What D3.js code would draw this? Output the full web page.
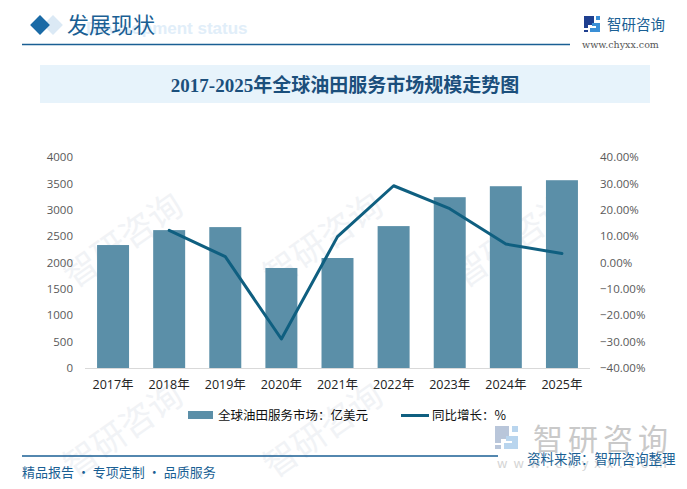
<!DOCTYPE html>
<html>
<head>
<meta charset="utf-8">
<script src="https://cdn.jsdelivr.net/npm/d3@7"></script>
<style>
  body { margin: 0; background: #fff; }
  svg { display: block; font-family: "Microsoft YaHei", "Noto Sans CJK SC", sans-serif; }
</style>
</head>
<body>
<div id="chart"></div>
<script>
// data
var years = ["2017年", "2018年", "2019年", "2020年", "2021年", "2022年", "2023年", "2024年", "2025年"];
var marketSize = [2331, 2614, 2671, 1896, 2085, 2690, 3238, 3446, 3560]; // 亿美元
var growth = [null, 12.2, 2.2, -29.0, 9.8, 29.1, 20.4, 7.0, 3.4]; // %
var leftTicks = [0, 500, 1000, 1500, 2000, 2500, 3000, 3500, 4000];
var rightTicks = [-40, -30, -20, -10, 0, 10, 20, 30, 40];

var W = 687, H = 489;
var barColor = "#5b8fa8";
var lineColor = "#0f5f80";
var brand = "#1a5f94";

var svg = d3.select("#chart").append("svg").attr("width", W).attr("height", H);

// faint watermarks
var wm = svg.append("g").attr("fill", "#f1f3f6").attr("font-size", 34);
[[130, 250], [330, 250], [520, 250], [130, 440], [330, 440]].forEach(function(p) {
  wm.append("text").attr("transform", "translate(" + p[0] + "," + p[1] + ") rotate(-35)")
    .attr("text-anchor", "middle").text("智研咨询");
});

// header
svg.append("rect").attr("x", 46).attr("y", 18).attr("width", 14).attr("height", 14)
  .attr("fill", "#dbe9f5").attr("transform", "rotate(45,53,25)");
svg.append("rect").attr("x", 33).attr("y", 18).attr("width", 14).attr("height", 14)
  .attr("fill", "#1a6aa6").attr("transform", "rotate(45,40,25)");
svg.append("text").attr("x", 86).attr("y", 34).attr("font-size", 17).attr("font-weight", "bold")
  .attr("font-family", "Arial, 'Liberation Sans', sans-serif")
  .attr("fill", "#e1eef9").text("Development status");
svg.append("text").attr("x", 67).attr("y", 33).attr("font-size", 22)
  .attr("fill", brand).text("发展现状");
svg.append("line").attr("x1", 22).attr("x2", 570).attr("y1", 44.5).attr("y2", 44.5)
  .attr("stroke", brand).attr("stroke-width", 1.5);

// small logo top right
var logo = svg.append("g").attr("transform", "translate(584,16)");
logo.append("path").attr("d", "M0,0 H10 V9 H4 V12 H0 Z M0,14 H4 V16 H0 Z").attr("fill", "#1f3f8f");
logo.append("path").attr("d", "M12,0 H16 V4 H12 Z M8,7 H16 V16 H6 V12 H12 V10 H8 Z").attr("fill", "#3a8fd6");
svg.append("text").attr("x", 607).attr("y", 30).attr("font-size", 14.5)
  .attr("fill", brand).text("智研咨询");
svg.append("text").attr("x", 582).attr("y", 48).attr("font-size", 9.5)
  .attr("font-family", "'DejaVu Serif', 'Liberation Serif', serif")
  .attr("fill", "#555").text("www.chyxx.com");

// title box
svg.append("rect").attr("x", 40).attr("y", 65).attr("width", 610).attr("height", 38).attr("fill", "#e7f3fb");
svg.append("text").attr("x", 345).attr("y", 92).attr("text-anchor", "middle")
  .attr("font-size", 19).attr("font-weight", "bold")
  .attr("font-family", "'Liberation Serif', 'DejaVu Serif', 'Noto Sans CJK SC', serif")
  .attr("fill", "#1b4f7c").text("2017-2025年全球油田服务市场规模走势图");

// scales
var x = d3.scaleBand().domain(years).range([85, 590]).paddingInner(0.43).paddingOuter(0.215);
var yL = d3.scaleLinear().domain([0, 4000]).range([368, 157]);
var yR = d3.scaleLinear().domain([-40, 40]).range([368, 157]);

// axes
var axL = svg.append("g").attr("transform", "translate(78,0)")
  .call(d3.axisLeft(yL).tickValues(leftTicks).tickSize(0).tickPadding(0).tickFormat(d3.format("d")));
axL.select(".domain").remove();
axL.selectAll("text").attr("font-size", 11.5).attr("fill", "#595959")
  .attr("font-family", "'Open Sans', 'DejaVu Sans', sans-serif").attr("dx", -5);

var axR = svg.append("g").attr("transform", "translate(600,0)")
  .call(d3.axisRight(yR).tickValues(rightTicks).tickSize(0).tickPadding(0)
    .tickFormat(function(d) { return d3.format(".2f")(d) + "%"; }));
axR.select(".domain").remove();
axR.selectAll("text").attr("font-size", 11.5).attr("fill", "#595959")
  .attr("font-family", "'Open Sans', 'DejaVu Sans', sans-serif");

// bars
svg.selectAll("rect.bar").data(marketSize).enter().append("rect")
  .attr("class", "bar")
  .attr("x", function(d, i) { return x(years[i]); })
  .attr("y", function(d) { return yL(d); })
  .attr("width", x.bandwidth())
  .attr("height", function(d) { return yL(0) - yL(d); })
  .attr("fill", barColor);

// base line
svg.append("line").attr("x1", 85).attr("x2", 590).attr("y1", 368.5).attr("y2", 368.5)
  .attr("stroke", "#d9d9d9").attr("stroke-width", 1);

var xAx = svg.append("g").attr("transform", "translate(0,368)")
  .call(d3.axisBottom(x).tickSize(0).tickPadding(12));
xAx.select(".domain").remove();
xAx.selectAll("text").attr("font-size", 12.5).attr("fill", "#222")
  .attr("font-family", "'Open Sans', 'Noto Sans CJK SC', sans-serif");

// growth line
var line = d3.line()
  .defined(function(d) { return d != null; })
  .x(function(d, i) { return x(years[i]) + x.bandwidth() / 2; })
  .y(function(d) { return yR(d); });
svg.append("path").datum(growth).attr("d", line)
  .attr("fill", "none").attr("stroke", lineColor).attr("stroke-width", 3)
  .attr("stroke-linejoin", "round").attr("stroke-linecap", "round");

// legend
var lg = svg.append("g").attr("font-size", 12.5).attr("fill", "#111");
lg.append("rect").attr("x", 188).attr("y", 411).attr("width", 25).attr("height", 8).attr("fill", barColor);
lg.append("text").attr("x", 218).attr("y", 420).text("全球油田服务市场：亿美元");
lg.append("line").attr("x1", 401).attr("x2", 429).attr("y1", 415.5).attr("y2", 415.5)
  .attr("stroke", lineColor).attr("stroke-width", 3);
lg.append("text").attr("x", 432).attr("y", 420).text("同比增长：%");

// footer
var bl = svg.append("g").attr("transform", "translate(495,426)");
bl.append("path").attr("d", "M0,0 H14 V13 H6 V17 H0 Z M0,19 H6 V23 H0 Z").attr("fill", "#b9c6da");
bl.append("path").attr("d", "M17,0 H23 V6 H17 Z M11,10 H23 V23 H9 V17 H17 V15 H11 Z").attr("fill", "#b9d5ee");
svg.append("text").attr("x", 533).attr("y", 450).attr("font-size", 30).attr("fill", "#c9c9c9")
  .attr("textLength", 135).text("智研咨询");
svg.append("text").attr("x", 497).attr("y", 468).attr("font-size", 13).attr("fill", "#d4d4d4")
  .attr("letter-spacing", 6).text("www.chyxx.com");
svg.append("line").attr("x1", 22).attr("x2", 498).attr("y1", 456).attr("y2", 456)
  .attr("stroke", brand).attr("stroke-width", 1.5);
svg.append("text").attr("x", 527).attr("y", 464).attr("font-size", 13.5).attr("fill", brand)
  .text("资料来源：智研咨询整理");
svg.append("text").attr("x", 22).attr("y", 477).attr("font-size", 13).attr("fill", brand)
  .text("精品报告 · 专项定制 · 品质服务");
</script>
</body>
</html>
